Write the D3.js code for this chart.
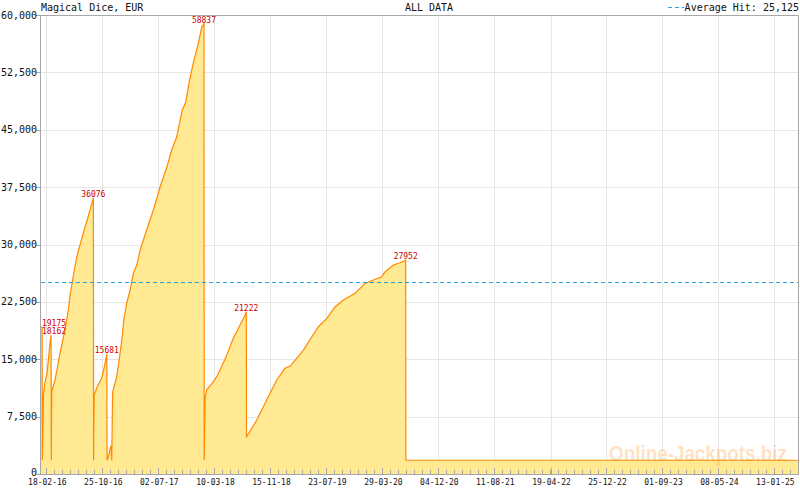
<!DOCTYPE html>
<html>
<head>
<meta charset="utf-8">
<script src="https://cdn.jsdelivr.net/npm/d3@7"></script>
<style>
  body { margin: 0; background: #fff; }
  text { font-family: "DejaVu Sans Mono", monospace; }
</style>
</head>
<body>
<div id="chart"></div>
<script>

// jackpot history
const dates = [
  "2016-01-25", "2016-01-30", "2016-01-31", "2016-02-05", "2016-02-12", "2016-02-20",
  "2016-02-27", "2016-03-05", "2016-03-10", "2016-03-11", "2016-03-13",
  "2016-03-28", "2016-04-19", "2016-05-11", "2016-05-26", "2016-06-03", "2016-06-18",
  "2016-07-03", "2016-07-17", "2016-08-01", "2016-08-16", "2016-08-31", "2016-09-15",
  "2016-09-16", "2016-09-17", "2016-09-19",
  "2016-09-30", "2016-10-22", "2016-11-02", "2016-11-14",
  "2016-11-15", "2016-11-21", "2016-11-28", "2016-12-03", "2016-12-06", "2016-12-10",
  "2016-12-28", "2017-01-08", "2017-01-20", "2017-01-30", "2017-02-11", "2017-02-26",
  "2017-03-13", "2017-03-28", "2017-04-12", "2017-05-11", "2017-06-10", "2017-07-10",
  "2017-08-09", "2017-08-31", "2017-09-22", "2017-10-17", "2017-11-02", "2017-11-16",
  "2017-12-06", "2017-12-28", "2018-01-12", "2018-01-22",
  "2018-01-23", "2018-01-27",
  "2018-02-03", "2018-03-05", "2018-03-20", "2018-04-04", "2018-05-04", "2018-06-02",
  "2018-07-02", "2018-07-25", "2018-07-30",
  "2018-07-31", "2018-09-15", "2018-10-29", "2018-12-13", "2019-01-19", "2019-02-11",
  "2019-03-12", "2019-04-11", "2019-05-19", "2019-06-17", "2019-07-25", "2019-08-31",
  "2019-10-07", "2019-11-28", "2020-01-12", "2020-02-18", "2020-03-26", "2020-04-10",
  "2020-05-17", "2020-06-16", "2020-07-11",
  "2020-07-12", "2025-05-03"
];

const values = [
  19175, 19175, 1800, 10300, 12060, 12940,
  14900, 17080, 18162, 1800, 10760,
  12290, 15815, 18820, 21435, 23395, 26010,
  28400, 29930, 31500, 32975, 34505, 36076,
  1800, 6140, 10325,
  11240, 12550, 13855, 15681,
  1800, 2260, 3137, 3700, 1800, 10717,
  12680, 14900, 17515, 20390, 22350, 24050,
  26270, 27315, 29280, 31890, 34505, 37510,
  40125, 42350, 44045, 47575, 48620, 51100,
  53850, 56330, 58420, 58837,
  1800, 9933,
  10980, 12065, 12720, 13590, 15550, 17735,
  19475, 20780, 21222,
  4875, 7058, 9670, 12285, 13815, 14115,
  15120, 16205, 17945, 19250, 20350, 21865,
  22740, 23620, 24925, 25355, 25790, 26440,
  27316, 27620, 27952,
  1800, 1800
];

const averageHit = 25125;

const xTickDates = [
  "2016-02-18", "2016-10-25", "2017-07-02", "2018-03-10", "2018-11-15", "2019-07-23",
  "2020-03-29", "2020-12-04", "2021-08-11", "2022-04-19", "2022-12-25", "2023-09-01",
  "2024-05-08", "2025-01-13"
];

const yTicks = [0, 7500, 15000, 22500, 30000, 37500, 45000, 52500, 60000];

const domainDates = ["2016-01-25", "2025-05-03"];

const chartTitle = "Magical Dice, EUR";
const chartSubtitle = "ALL DATA";
const watermark = "Online-Jackpots.biz";

var width = 800;
var height = 490;
var margin = { left: 41, right: 1, top: 15, bottom: 16 };

var parseDate = d3.timeParse("%Y-%m-%d");
var fmtDate = d3.timeFormat("%d-%m-%y");
var fmtNum = d3.format(",");

var dataset = dates.map(function(d, i) {
  return { date: parseDate(d), value: values[i] };
});

var xScale = d3.scaleTime()
  .domain(domainDates.map(parseDate))
  .range([margin.left, width - margin.right]);

var yScale = d3.scaleLinear()
  .domain([0, 60000])
  .range([height - margin.bottom, margin.top]);

var svg = d3.select("#chart").append("svg")
  .attr("width", width)
  .attr("height", height);

var x0 = margin.left, x1 = width - margin.right;
var y0 = height - margin.bottom, y1 = margin.top;

// grid
var majorX = xTickDates.map(parseDate);

svg.append("g").selectAll("line.vgrid")
  .data(majorX)
  .enter().append("line")
  .attr("x1", d => Math.round(xScale(d)) + 0.5)
  .attr("x2", d => Math.round(xScale(d)) + 0.5)
  .attr("y1", y1)
  .attr("y2", y0)
  .attr("stroke", "#e6e6e6");

svg.append("g").selectAll("line.hgrid")
  .data(yTicks)
  .enter().append("line")
  .attr("x1", x0)
  .attr("x2", x1)
  .attr("y1", d => Math.round(yScale(d)) + 0.5)
  .attr("y2", d => Math.round(yScale(d)) + 0.5)
  .attr("stroke", "#e6e6e6");

// area + line
var area = d3.area()
  .x(d => xScale(d.date))
  .y0(yScale(0))
  .y1(d => yScale(d.value));

var line = d3.line()
  .x(d => xScale(d.date))
  .y(d => yScale(d.value));

svg.append("path")
  .datum(dataset)
  .attr("d", area)
  .attr("fill", "#ffe992");

// watermark, stretched a bit taller like the original
svg.append("text")
  .attr("transform", "translate(609,461) scale(1,1.2)")
  .attr("textLength", 178)
  .attr("lengthAdjust", "spacingAndGlyphs")
  .style("font-family", "'Liberation Sans', Arial, sans-serif")
  .style("font-weight", "bold")
  .style("font-size", "19px")
  .attr("fill", "#ff9a2e")
  .attr("fill-opacity", 0.3)
  .text(watermark);

svg.append("path")
  .datum(dataset)
  .attr("d", line)
  .attr("fill", "none")
  .attr("stroke", "#ff8a00")
  .attr("stroke-width", 1.2);

// average hit
svg.append("line")
  .attr("x1", x0)
  .attr("x2", x1)
  .attr("y1", Math.round(yScale(averageHit)) + 0.5)
  .attr("y2", Math.round(yScale(averageHit)) + 0.5)
  .attr("stroke", "#2a9fd8")
  .attr("stroke-dasharray", "4,3");

// peak labels: points right before a big drop
var peaks = dataset.filter(function(d, i) {
  var next = dataset[i + 1];
  return next && d.value - next.value > 2500 && d.value > 15000;
});

svg.append("g").selectAll("text")
  .data(peaks)
  .enter().append("text")
  .attr("x", d => Math.max(x0 + 1 + 12, xScale(d.date)))
  .attr("y", d => yScale(d.value) - 1)
  .attr("text-anchor", "middle")
  .style("font-size", "8px")
  .attr("fill", "#cc0000")
  .text(d => d.value);

// frame
svg.append("path")
  .attr("d", "M" + (x0 - 0.5) + "," + y0 + "V" + (y1 + 0.5) + "H" + (x1 - 0.5) + "V" + (y0 + 0.5) + "H" + (x0 - 0.5))
  .attr("fill", "none")
  .attr("stroke", "#a8a8a8");

// y axis
var yAxisG = svg.append("g");
yAxisG.selectAll("line")
  .data(yTicks)
  .enter().append("line")
  .attr("x1", x0 - 5)
  .attr("x2", x0)
  .attr("y1", d => Math.round(yScale(d)) + 0.5)
  .attr("y2", d => Math.round(yScale(d)) + 0.5)
  .attr("stroke", "#a8a8a8");

yAxisG.selectAll("text")
  .data(yTicks)
  .enter().append("text")
  .attr("x", x0 - 4)
  .attr("y", d => yScale(d) - (d === 0 ? 2 : 0))
  .attr("dy", "0.36em")
  .attr("text-anchor", "end")
  .style("font-size", "10px")
  .attr("fill", "#111")
  .text(d => fmtNum(d));

// x axis: major ticks plus 7 sub steps each
var step = (majorX[1] - majorX[0]) / 7;
var minorX = [];
var domainX = xScale.domain();
for (var t = +majorX[0]; t <= +domainX[1]; t += step) minorX.push(new Date(t));
for (var t2 = +majorX[0] - step; t2 >= +domainX[0]; t2 -= step) minorX.push(new Date(t2));

svg.append("g").selectAll("line")
  .data(minorX)
  .enter().append("line")
  .attr("x1", d => Math.round(xScale(d)) + 0.5)
  .attr("x2", d => Math.round(xScale(d)) + 0.5)
  .attr("y1", y0)
  .attr("y2", y0 - 4)
  .attr("stroke", "#a8a8a8");

svg.append("g").selectAll("line")
  .data(majorX)
  .enter().append("line")
  .attr("x1", d => Math.round(xScale(d)) + 0.5)
  .attr("x2", d => Math.round(xScale(d)) + 0.5)
  .attr("y1", y0)
  .attr("y2", y0 - 6)
  .attr("stroke", "#a8a8a8");

svg.append("g").selectAll("text")
  .data(majorX)
  .enter().append("text")
  .attr("x", d => xScale(d) + 1)
  .attr("y", 485)
  .attr("text-anchor", "middle")
  .style("font-size", "8px")
  .attr("fill", "#111")
  .text(d => fmtDate(d));

// titles + legend
svg.append("text")
  .attr("x", x0)
  .attr("y", 11)
  .style("font-size", "10px")
  .attr("fill", "#111")
  .text(chartTitle);

svg.append("text")
  .attr("x", 429)
  .attr("y", 11)
  .attr("text-anchor", "middle")
  .style("font-size", "10px")
  .attr("fill", "#111")
  .text(chartSubtitle);

svg.append("text")
  .attr("x", 799)
  .attr("y", 11)
  .attr("text-anchor", "end")
  .style("font-size", "10px")
  .attr("fill", "#111")
  .text("Average Hit: " + fmtNum(averageHit));

svg.append("line")
  .attr("x1", 668)
  .attr("x2", 684)
  .attr("y1", 7.5)
  .attr("y2", 7.5)
  .attr("stroke", "#2a9fd8")
  .attr("stroke-dasharray", "4,3");

</script>
</body>
</html>
